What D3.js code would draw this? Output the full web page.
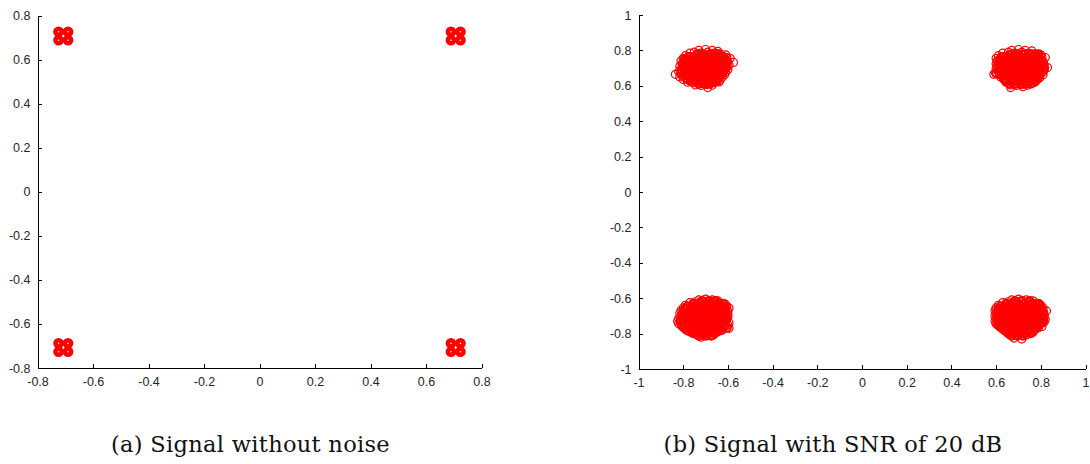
<!DOCTYPE html>
<html><head><meta charset="utf-8">
<script src="https://cdn.jsdelivr.net/npm/d3@7/dist/d3.min.js"></script>
<style>
html,body{margin:0;padding:0;background:#fff;}
svg{display:block;}
.tick text{font-family:"Liberation Sans",Arial,sans-serif;font-size:12.5px;fill:#262626;}
.caption{font-family:"DejaVu Serif","Liberation Serif",serif;font-size:22.5px;letter-spacing:0.3px;fill:#111;}
</style></head>
<body>
<svg id="chart" width="1090" height="464"></svg>
<script>
// ---------- DATA ----------
const ticksA = [-0.8,-0.6,-0.4,-0.2,0,0.2,0.4,0.6,0.8];
const ticksB = [-1,-0.8,-0.6,-0.4,-0.2,0,0.2,0.4,0.6,0.8,1];
const captionA = "(a) Signal without noise";
const captionB = "(b) Signal with SNR of 20 dB";

// Noiseless constellation (each symbol drawn as a 2x2 group of markers)
const cleanI = [-0.724,-0.690,-0.724,-0.690, 0.690,0.724,0.690,0.724, -0.724,-0.690,-0.724,-0.690, 0.690,0.724,0.690,0.724];
const cleanQ = [0.726,0.726,0.688,0.688, 0.726,0.726,0.688,0.688, -0.688,-0.688,-0.726,-0.726, -0.688,-0.688,-0.726,-0.726];

// Noisy received symbols (I, Q), SNR = 20 dB — outer/scattered points
const noisyTL = [[-0.73,0.80],[-0.70,0.805],[-0.67,0.80],[-0.645,0.795],
[-0.77,0.785],[-0.75,0.79],[-0.72,0.785],[-0.69,0.79],[-0.66,0.785],[-0.635,0.78],[-0.61,0.775],
[-0.79,0.77],[-0.765,0.765],[-0.74,0.772],[-0.71,0.768],[-0.685,0.775],[-0.655,0.77],[-0.63,0.765],[-0.605,0.76],
[-0.80,0.755],[-0.78,0.75],[-0.755,0.757],[-0.73,0.752],[-0.705,0.755],[-0.68,0.758],[-0.655,0.75],[-0.635,0.755],[-0.61,0.748],[-0.59,0.755],
[-0.81,0.74],[-0.785,0.738],[-0.765,0.742],[-0.74,0.736],[-0.72,0.74],[-0.695,0.738],[-0.67,0.743],[-0.645,0.737],[-0.62,0.74],[-0.60,0.735],[-0.575,0.732],
[-0.805,0.725],[-0.78,0.722],[-0.76,0.727],[-0.735,0.72],[-0.71,0.725],[-0.69,0.722],[-0.665,0.728],[-0.64,0.72],[-0.615,0.724],[-0.595,0.718],
[-0.815,0.71],[-0.79,0.707],[-0.77,0.712],[-0.745,0.706],[-0.725,0.71],[-0.70,0.708],[-0.675,0.712],[-0.65,0.705],[-0.63,0.71],[-0.605,0.704],
[-0.81,0.695],[-0.785,0.692],[-0.76,0.697],[-0.74,0.69],[-0.715,0.695],[-0.69,0.693],[-0.67,0.698],[-0.645,0.69],[-0.62,0.695],[-0.60,0.69],
[-0.82,0.68],[-0.795,0.677],[-0.77,0.682],[-0.75,0.676],[-0.725,0.68],[-0.70,0.678],[-0.68,0.683],[-0.655,0.675],[-0.63,0.68],[-0.61,0.676],
[-0.835,0.665],[-0.80,0.662],[-0.78,0.667],[-0.755,0.66],[-0.73,0.665],[-0.71,0.663],[-0.685,0.668],[-0.66,0.66],[-0.64,0.665],[-0.615,0.662],
[-0.815,0.65],[-0.79,0.647],[-0.765,0.652],[-0.74,0.645],[-0.72,0.65],[-0.695,0.648],[-0.67,0.653],[-0.65,0.645],[-0.625,0.65],
[-0.80,0.635],[-0.775,0.632],[-0.75,0.637],[-0.73,0.63],[-0.705,0.635],[-0.68,0.633],[-0.655,0.637],[-0.635,0.632],
[-0.78,0.62],[-0.755,0.617],[-0.735,0.622],[-0.71,0.615],[-0.685,0.62],[-0.66,0.618],[-0.64,0.622],
[-0.745,0.605],[-0.72,0.602],[-0.695,0.607],[-0.67,0.603],
[-0.69,0.59]];

const noisyTR = [[0.67,0.80],[0.70,0.805],[0.73,0.80],[0.76,0.797],
[0.63,0.785],[0.655,0.79],[0.685,0.785],[0.715,0.79],[0.745,0.785],[0.775,0.78],[0.80,0.775],
[0.61,0.77],[0.635,0.765],[0.66,0.772],[0.69,0.768],[0.72,0.775],[0.75,0.77],[0.78,0.765],[0.805,0.762],[0.82,0.76],
[0.60,0.755],[0.625,0.75],[0.65,0.757],[0.675,0.752],[0.70,0.755],[0.73,0.758],[0.755,0.75],[0.78,0.755],[0.80,0.748],
[0.605,0.74],[0.63,0.738],[0.655,0.742],[0.68,0.736],[0.705,0.74],[0.73,0.738],[0.755,0.743],[0.78,0.737],[0.805,0.74],
[0.60,0.725],[0.625,0.722],[0.65,0.727],[0.675,0.72],[0.70,0.725],[0.725,0.722],[0.75,0.728],[0.775,0.72],[0.80,0.724],[0.815,0.718],
[0.605,0.71],[0.63,0.707],[0.655,0.712],[0.68,0.706],[0.705,0.71],[0.73,0.708],[0.755,0.712],[0.78,0.705],[0.80,0.71],[0.83,0.703],
[0.60,0.695],[0.625,0.692],[0.65,0.697],[0.675,0.69],[0.70,0.695],[0.725,0.693],[0.75,0.698],[0.775,0.69],[0.80,0.695],[0.815,0.69],
[0.61,0.68],[0.635,0.677],[0.66,0.682],[0.685,0.676],[0.71,0.68],[0.735,0.678],[0.76,0.683],[0.785,0.675],[0.81,0.68],
[0.59,0.665],[0.615,0.662],[0.64,0.667],[0.665,0.66],[0.69,0.665],[0.715,0.663],[0.74,0.668],[0.765,0.66],[0.79,0.665],[0.81,0.662],
[0.62,0.65],[0.645,0.647],[0.67,0.652],[0.695,0.645],[0.72,0.65],[0.745,0.648],[0.77,0.653],[0.795,0.645],
[0.635,0.635],[0.66,0.632],[0.685,0.637],[0.71,0.63],[0.735,0.635],[0.76,0.633],[0.785,0.637],
[0.645,0.62],[0.67,0.617],[0.695,0.622],[0.72,0.615],[0.745,0.62],[0.77,0.618],
[0.665,0.605],[0.69,0.602],[0.715,0.607],[0.74,0.603],
[0.665,0.59],[0.72,0.595]];

const noisyBL = [[-0.73,-0.61],[-0.70,-0.605],[-0.67,-0.61],[-0.645,-0.615],
[-0.77,-0.625],[-0.745,-0.62],[-0.72,-0.625],[-0.69,-0.62],[-0.66,-0.625],[-0.635,-0.63],[-0.61,-0.635],
[-0.79,-0.64],[-0.765,-0.645],[-0.74,-0.638],[-0.71,-0.642],[-0.685,-0.635],[-0.655,-0.64],[-0.63,-0.645],[-0.605,-0.65],
[-0.80,-0.655],[-0.78,-0.66],[-0.755,-0.653],[-0.73,-0.658],[-0.705,-0.655],[-0.68,-0.652],[-0.655,-0.66],[-0.635,-0.655],[-0.61,-0.662],[-0.595,-0.655],
[-0.81,-0.67],[-0.785,-0.672],[-0.765,-0.668],[-0.74,-0.674],[-0.72,-0.67],[-0.695,-0.672],[-0.67,-0.667],[-0.645,-0.673],[-0.62,-0.67],[-0.60,-0.675],
[-0.815,-0.685],[-0.79,-0.688],[-0.77,-0.683],[-0.745,-0.69],[-0.72,-0.685],[-0.70,-0.688],[-0.675,-0.682],[-0.65,-0.69],[-0.625,-0.686],[-0.60,-0.692],
[-0.81,-0.70],[-0.785,-0.703],[-0.76,-0.698],[-0.74,-0.704],[-0.715,-0.70],[-0.69,-0.702],[-0.67,-0.697],[-0.645,-0.705],[-0.62,-0.70],[-0.60,-0.706],
[-0.82,-0.715],[-0.795,-0.718],[-0.77,-0.713],[-0.75,-0.72],[-0.725,-0.715],[-0.70,-0.717],[-0.68,-0.712],[-0.655,-0.72],[-0.63,-0.715],[-0.605,-0.72],
[-0.825,-0.73],[-0.80,-0.733],[-0.78,-0.728],[-0.755,-0.735],[-0.73,-0.73],[-0.71,-0.732],[-0.685,-0.727],[-0.66,-0.735],[-0.64,-0.73],[-0.615,-0.735],[-0.595,-0.74],
[-0.82,-0.745],[-0.795,-0.748],[-0.77,-0.743],[-0.745,-0.75],[-0.725,-0.745],[-0.70,-0.747],[-0.675,-0.742],[-0.65,-0.75],[-0.625,-0.745],[-0.60,-0.752],
[-0.805,-0.76],[-0.78,-0.763],[-0.76,-0.758],[-0.735,-0.765],[-0.71,-0.76],[-0.685,-0.762],[-0.66,-0.757],[-0.64,-0.765],[-0.615,-0.76],[-0.595,-0.77],
[-0.79,-0.775],[-0.765,-0.778],[-0.74,-0.773],[-0.72,-0.78],[-0.695,-0.775],[-0.67,-0.777],[-0.645,-0.772],[-0.625,-0.78],
[-0.77,-0.79],[-0.745,-0.793],[-0.725,-0.788],[-0.70,-0.795],[-0.675,-0.79],[-0.65,-0.792],
[-0.74,-0.805],[-0.715,-0.808],[-0.69,-0.803],[-0.665,-0.808],
[-0.72,-0.82]];

const noisyBR = [[0.67,-0.61],[0.70,-0.605],[0.735,-0.61],[0.765,-0.615],
[0.63,-0.625],[0.655,-0.62],[0.685,-0.625],[0.715,-0.62],[0.745,-0.625],[0.775,-0.63],[0.80,-0.64],
[0.61,-0.64],[0.635,-0.645],[0.66,-0.638],[0.69,-0.642],[0.72,-0.635],[0.75,-0.64],[0.78,-0.645],[0.81,-0.655],
[0.60,-0.655],[0.625,-0.66],[0.65,-0.653],[0.675,-0.658],[0.70,-0.655],[0.73,-0.652],[0.755,-0.66],[0.78,-0.655],[0.805,-0.662],
[0.595,-0.67],[0.62,-0.672],[0.645,-0.668],[0.67,-0.674],[0.695,-0.67],[0.72,-0.672],[0.745,-0.667],[0.77,-0.673],[0.795,-0.67],[0.825,-0.672],
[0.60,-0.685],[0.625,-0.688],[0.65,-0.683],[0.675,-0.69],[0.70,-0.685],[0.725,-0.688],[0.75,-0.682],[0.775,-0.69],[0.80,-0.686],[0.815,-0.692],
[0.595,-0.70],[0.62,-0.703],[0.645,-0.698],[0.67,-0.704],[0.695,-0.70],[0.72,-0.702],[0.745,-0.697],[0.77,-0.705],[0.795,-0.70],[0.815,-0.706],
[0.60,-0.715],[0.625,-0.718],[0.65,-0.713],[0.675,-0.72],[0.70,-0.715],[0.725,-0.717],[0.75,-0.712],[0.775,-0.72],[0.80,-0.715],[0.82,-0.72],
[0.595,-0.73],[0.62,-0.733],[0.645,-0.728],[0.67,-0.735],[0.695,-0.73],[0.72,-0.732],[0.745,-0.727],[0.77,-0.735],[0.795,-0.73],[0.815,-0.735],
[0.60,-0.745],[0.625,-0.748],[0.65,-0.743],[0.675,-0.75],[0.70,-0.745],[0.725,-0.747],[0.75,-0.742],[0.775,-0.75],[0.80,-0.745],
[0.615,-0.76],[0.64,-0.763],[0.665,-0.758],[0.69,-0.765],[0.715,-0.76],[0.74,-0.762],[0.765,-0.757],[0.79,-0.765],[0.805,-0.76],
[0.63,-0.775],[0.655,-0.778],[0.68,-0.773],[0.705,-0.78],[0.73,-0.775],[0.755,-0.777],[0.78,-0.772],
[0.645,-0.79],[0.67,-0.793],[0.695,-0.788],[0.72,-0.795],[0.745,-0.79],[0.765,-0.792],
[0.66,-0.805],[0.685,-0.808],[0.71,-0.803],[0.735,-0.808],
[0.68,-0.825],[0.715,-0.83]];

// Dense core points of each cluster, listed per row: [Q, [I values]]
const coreTL = [[0.778,[-0.735,-0.705,-0.675,-0.645]],
[0.762,[-0.775,-0.75,-0.72,-0.695,-0.67,-0.645,-0.62]],
[0.747,[-0.795,-0.77,-0.745,-0.72,-0.695,-0.665,-0.64,-0.615]],
[0.732,[-0.795,-0.77,-0.75,-0.725,-0.70,-0.68,-0.655,-0.63,-0.605]],
[0.717,[-0.80,-0.78,-0.755,-0.735,-0.715,-0.69,-0.665,-0.64,-0.615]],
[0.702,[-0.80,-0.775,-0.75,-0.73,-0.705,-0.68,-0.66,-0.635,-0.61]],
[0.687,[-0.805,-0.78,-0.76,-0.735,-0.71,-0.69,-0.665,-0.64,-0.62]],
[0.672,[-0.81,-0.785,-0.765,-0.74,-0.72,-0.695,-0.67,-0.65,-0.625]],
[0.657,[-0.80,-0.775,-0.755,-0.73,-0.705,-0.685,-0.66,-0.635]],
[0.642,[-0.785,-0.76,-0.735,-0.71,-0.69,-0.665,-0.645]],
[0.627,[-0.765,-0.745,-0.72,-0.695,-0.67,-0.65]],
[0.612,[-0.73,-0.705,-0.68]]];

const coreTR = [[0.778,[0.67,0.70,0.73,0.76,0.79]],
[0.762,[0.625,0.65,0.675,0.705,0.735,0.765,0.79]],
[0.747,[0.615,0.64,0.665,0.69,0.715,0.74,0.77,0.79]],
[0.732,[0.615,0.64,0.665,0.69,0.715,0.74,0.765,0.79,0.81]],
[0.717,[0.615,0.64,0.665,0.69,0.715,0.74,0.765,0.79,0.81]],
[0.702,[0.615,0.64,0.665,0.69,0.72,0.745,0.77,0.79,0.815]],
[0.687,[0.615,0.64,0.665,0.69,0.715,0.74,0.765,0.79]],
[0.672,[0.60,0.625,0.65,0.675,0.70,0.725,0.75,0.775,0.80]],
[0.657,[0.63,0.655,0.68,0.705,0.73,0.755,0.78]],
[0.642,[0.635,0.66,0.685,0.71,0.735,0.76,0.785]],
[0.627,[0.645,0.67,0.695,0.72,0.75,0.775]],
[0.612,[0.66,0.685,0.71,0.735,0.755]]];

const coreBL = [[-0.617,[-0.715,-0.685,-0.655]],
[-0.632,[-0.755,-0.73,-0.70,-0.675,-0.645,-0.62]],
[-0.647,[-0.78,-0.75,-0.725,-0.695,-0.67,-0.64,-0.615]],
[-0.662,[-0.79,-0.765,-0.74,-0.715,-0.69,-0.665,-0.645,-0.62]],
[-0.677,[-0.80,-0.775,-0.75,-0.73,-0.705,-0.68,-0.655,-0.635,-0.61]],
[-0.692,[-0.80,-0.78,-0.755,-0.73,-0.71,-0.685,-0.66,-0.635,-0.61]],
[-0.707,[-0.80,-0.775,-0.75,-0.725,-0.705,-0.68,-0.655,-0.63,-0.61]],
[-0.722,[-0.81,-0.785,-0.76,-0.735,-0.715,-0.69,-0.665,-0.64,-0.615]],
[-0.737,[-0.81,-0.785,-0.765,-0.74,-0.715,-0.695,-0.67,-0.645,-0.62]],
[-0.752,[-0.805,-0.78,-0.755,-0.735,-0.71,-0.69,-0.665,-0.64,-0.615]],
[-0.767,[-0.795,-0.77,-0.75,-0.725,-0.70,-0.675,-0.65,-0.63,-0.605]],
[-0.782,[-0.78,-0.755,-0.73,-0.71,-0.685,-0.66,-0.635]],
[-0.797,[-0.755,-0.73,-0.71,-0.685,-0.66]],
[-0.812,[-0.73,-0.70,-0.675]]];

const coreBR = [[-0.617,[0.685,0.715,0.75]],
[-0.632,[0.645,0.67,0.70,0.73,0.76,0.79]],
[-0.647,[0.62,0.645,0.675,0.705,0.735,0.765,0.795]],
[-0.662,[0.61,0.64,0.665,0.69,0.715,0.745,0.77,0.795]],
[-0.677,[0.61,0.635,0.66,0.685,0.71,0.735,0.76,0.785,0.81]],
[-0.692,[0.61,0.635,0.66,0.685,0.71,0.74,0.765,0.79]],
[-0.707,[0.61,0.635,0.66,0.685,0.71,0.735,0.76,0.785,0.805]],
[-0.722,[0.61,0.635,0.66,0.69,0.715,0.74,0.765,0.79,0.81]],
[-0.737,[0.61,0.635,0.66,0.685,0.71,0.735,0.76,0.785,0.805]],
[-0.752,[0.61,0.64,0.665,0.69,0.715,0.74,0.765,0.79]],
[-0.767,[0.625,0.65,0.675,0.70,0.73,0.755,0.78]],
[-0.782,[0.64,0.665,0.69,0.715,0.74,0.765]],
[-0.797,[0.655,0.68,0.705,0.73,0.755]],
[-0.812,[0.67,0.695,0.72]]];

// ---------- DRAW ----------
const svg = d3.select("#chart");
const RED = "#ff0000";
const fmt = d => String(d);

function drawAxes(g, x, y, ticks) {
  const yPix0 = y.range()[0], xPix0 = x.range()[0];
  g.append("g").attr("transform", `translate(0,${yPix0})`)
    .call(d3.axisBottom(x).tickValues(ticks).tickFormat(fmt).tickSizeInner(-4).tickSizeOuter(0).tickPadding(9));
  g.append("g").attr("transform", `translate(${xPix0},0)`)
    .call(d3.axisLeft(y).tickValues(ticks).tickFormat(fmt).tickSizeInner(-4).tickSizeOuter(0).tickPadding(7));
  g.selectAll(".domain, .tick line").attr("stroke", "#000").attr("stroke-width", 1).attr("shape-rendering","crispEdges");
}

// Panel (a)
const xA = d3.scaleLinear().domain([-0.8, 0.8]).range([37.5, 481.5]);
const yA = d3.scaleLinear().domain([-0.8, 0.8]).range([368, 15.5]);
const gA = svg.append("g");
drawAxes(gA, xA, yA, ticksA);
gA.append("g").selectAll("circle").data(d3.range(cleanI.length)).join("circle")
  .attr("cx", i => xA(cleanI[i])).attr("cy", i => yA(cleanQ[i]))
  .attr("r", 3.1).attr("fill", "none").attr("stroke", RED).attr("stroke-width", 4.6);

// Panel (b)
const xB = d3.scaleLinear().domain([-1, 1]).range([638.5, 1085.5]);
const yB = d3.scaleLinear().domain([-1, 1]).range([369, 15]);
const gB = svg.append("g");
drawAxes(gB, xB, yB, ticksB);
const rowsToPts = rows => rows.flatMap(([q, is]) => is.map(i => [i, q]));
const core = [].concat(rowsToPts(coreTL), rowsToPts(coreTR), rowsToPts(coreBL), rowsToPts(coreBR));
const outer = [].concat(noisyTL, noisyTR, noisyBL, noisyBR);
gB.append("g").selectAll("circle").data(core).join("circle")
  .attr("cx", d => xB(d[0])).attr("cy", d => yB(d[1]))
  .attr("r", 4).attr("fill", "none").attr("stroke", RED).attr("stroke-width", 2.2);
gB.append("g").selectAll("circle").data(outer).join("circle")
  .attr("cx", d => xB(d[0])).attr("cy", d => yB(d[1]))
  .attr("r", 4).attr("fill", "none").attr("stroke", RED).attr("stroke-width", 1.2);

// Captions
svg.append("text").attr("class","caption").attr("x", 250.5).attr("y", 452).attr("text-anchor","middle").text(captionA);
svg.append("text").attr("class","caption").attr("x", 833).attr("y", 452).attr("text-anchor","middle").text(captionB);
</script>
</body></html>
